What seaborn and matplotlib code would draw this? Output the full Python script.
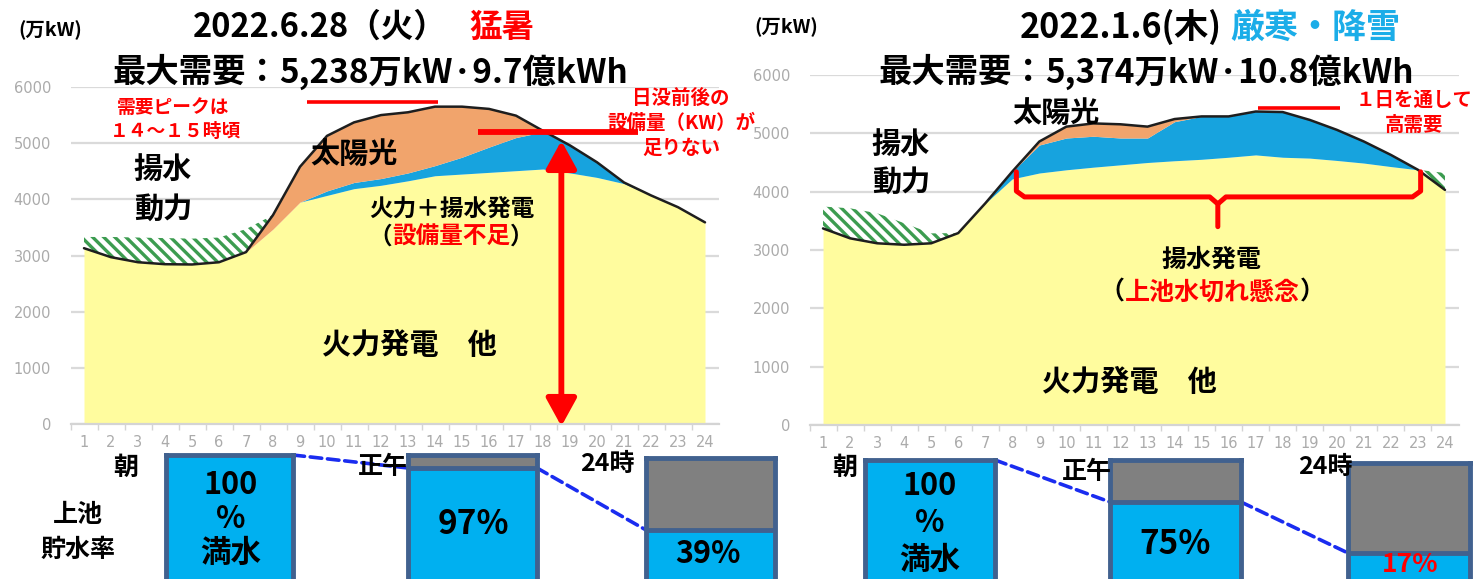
import numpy as np
import pandas as pd
import matplotlib
matplotlib.use("Agg")
import matplotlib.pyplot as plt
import seaborn as sns
from matplotlib.patches import ConnectionPatch

# ---------------- data (万kW) ----------------
hours = list(range(1, 25))
hour_labels = [str(h) for h in hours]
y_ticks = [0, 1000, 2000, 3000, 4000, 5000, 6000]

# 2022.6.28 (summer heat)
summer_thermal = [3130, 2970, 2880, 2845, 2840, 2880, 3060, 3470, 3950, 4070, 4190, 4250,
                  4330, 4420, 4450, 4480, 4510, 4540, 4470, 4390, 4280, 4070, 3860, 3590]
summer_pump_gen = [0, 0, 0, 0, 0, 0, 0, 0, 0, 80, 110, 120,
                   140, 180, 300, 450, 590, 660, 490, 270, 20, 0, 0, 0]
summer_solar = [0, 0, 0, 0, 0, 0, 0, 250, 630, 980, 1070, 1130,
                1080, 1050, 900, 680, 390, 20, 0, 0, 0, 0, 0, 0]
summer_pump_load = [200, 360, 440, 465, 460, 440, 410, 0, 0, 0, 0, 0,
                    0, 0, 0, 0, 0, 0, 0, 0, 0, 0, 0, 0]

# 2022.1.6 (cold wave, snow)
winter_thermal = [3370, 3200, 3115, 3090, 3115, 3290, 3800, 4220, 4320, 4375, 4420, 4460,
                  4500, 4530, 4555, 4590, 4630, 4590, 4575, 4535, 4490, 4430, 4375, 4030]
winter_pump_gen = [0, 0, 0, 0, 0, 0, 0, 125, 480, 545, 530, 460,
                   420, 670, 735, 700, 744, 775, 655, 525, 370, 200, 0, 0]
winter_solar = [0, 0, 0, 0, 0, 0, 0, 0, 60, 195, 220, 235,
                195, 45, 0, 0, 0, 0, 0, 0, 0, 0, 0, 0]
winter_pump_load = [375, 515, 515, 370, 170, 0, 0, 0, 0, 0, 0, 0,
                    0, 0, 0, 0, 0, 0, 0, 0, 0, 0, 0, 290]

# upper reservoir storage rate (%)
storage_times = ["朝", "正午", "24時"]
summer_storage = [100, 97, 39]
winter_storage = [100, 75, 17]

# ---------------- style ----------------
W, H = 1474, 579
YELLOW = "#FFFC9E"
BLUE = "#17A3DE"
ORANGE = "#F1A46C"
GREEN = "#3C9C50"
RED = "#FF0000"
TANK_BLUE = "#00B0F0"
TANK_GREY = "#808080"
TANK_EDGE = "#41618F"
DASH_BLUE = "#1A2CF0"
TICK_GREY = "#ABABAB"

sns.set_theme(style="white")
plt.rcParams["font.family"] = ["Noto Sans CJK JP", "DejaVu Sans"]
plt.rcParams["font.weight"] = "bold"
plt.rcParams["hatch.linewidth"] = 2.4
plt.rcParams["hatch.color"] = GREEN

fig = plt.figure(figsize=(W / 100, H / 100), dpi=100)


def px_rect(x0, y0, x1, y1):
    """figure-fraction rect from pixel box (origin top-left)."""
    return [x0 / W, 1 - y1 / H, (x1 - x0) / W, (y1 - y0) / H]


def area_chart(rect, thermal, pump_gen, solar, pump_load):
    ax = fig.add_axes(rect, zorder=1)
    df = pd.DataFrame({"hour": hours, "thermal": thermal, "pump_gen": pump_gen,
                       "solar": solar, "pump_load": pump_load})
    df["top_gen"] = df["thermal"] + df["pump_gen"]
    df["demand"] = df["top_gen"] + df["solar"]
    df["pump_top"] = df["demand"] + df["pump_load"]

    ax.fill_between(df["hour"], 0, df["thermal"], color=YELLOW, lw=0, zorder=2)
    ax.fill_between(df["hour"], df["thermal"], df["top_gen"], color=BLUE, lw=0, zorder=2)
    ax.fill_between(df["hour"], df["top_gen"], df["demand"], color=ORANGE, lw=0, zorder=2)
    ax.fill_between(df["hour"], df["demand"], df["pump_top"], facecolor="white",
                    edgecolor=GREEN, hatch="\\\\\\", lw=0, zorder=2)
    sns.lineplot(data=df, x="hour", y="demand", ax=ax, color="#1E1E1E", lw=1.8, zorder=3)

    ax.set_xlim(0.5, 24.5)
    ax.set_ylim(0, 6000)
    ax.set_xticks(hours)
    ax.set_xticklabels(hour_labels)
    ax.set_xticks([h + 0.5 for h in hours[:-1]] + [0.5], minor=True)
    ax.set_yticks(y_ticks)
    ax.set(xlabel="", ylabel="")
    ax.grid(axis="y", color="#DADADA", lw=1.6)
    ax.grid(axis="x", visible=False)
    ax.set_axisbelow(True)
    for side in ("top", "left", "right"):
        ax.spines[side].set_visible(False)
    ax.spines["bottom"].set_color("#D4D4D4")
    ax.spines["bottom"].set_linewidth(1.6)
    ax.tick_params(axis="y", length=0, pad=14, labelsize=10.5, labelcolor=TICK_GREY)
    ax.tick_params(axis="x", which="major", length=0, pad=8, labelsize=10.5, labelcolor=TICK_GREY)
    ax.tick_params(axis="x", which="minor", length=4, width=1, color="#D4D4D4", bottom=True)
    for lab in ax.get_xticklabels() + ax.get_yticklabels():
        lab.set_fontweight("normal")
        lab.set_fontfamily("DejaVu Sans")
    return ax, df


ax_s, df_s = area_chart(px_rect(70.5, 87, 718.5, 424), summer_thermal, summer_pump_gen,
                        summer_solar, summer_pump_load)
ax_w, df_w = area_chart(px_rect(809.5, 75, 1458.5, 425), winter_thermal, winter_pump_gen,
                        winter_solar, winter_pump_load)

# summer annotations: peak-demand bar, supply ceiling, evening shortfall arrow
ax_s.plot([9.25, 14.1], [5740, 5740], color=RED, lw=2.6, solid_capstyle="butt", zorder=4)
ceiling = df_s["top_gen"].max()
ax_s.plot([15.6, 21.5], [ceiling, ceiling], color=RED, lw=4.2, solid_capstyle="butt", zorder=4)
arrow_h = 18.68
arrow_top = np.interp(arrow_h, df_s["hour"], df_s["demand"])
ax_s.annotate("", xy=(arrow_h, arrow_top), xytext=(arrow_h, -40),
              arrowprops=dict(arrowstyle="<|-|>,head_length=0.4,head_width=0.22",
                              mutation_scale=42, color=RED, lw=4.2,
                              shrinkA=0, shrinkB=0), zorder=5, annotation_clip=False)

# winter annotations: all-day high demand bar and pumped-storage bracket
ax_w.plot([17.1, 20.1], [5437, 5437], color=RED, lw=2.6, solid_capstyle="butt", zorder=4)
br_l, br_r, br_c = 8.15, 23.1, 15.6
br_top, br_mid, br_tip = 4340, 3910, 3400
ax_w.plot([br_l, br_l, br_l + 0.3, br_c - 0.3, br_c, br_c],
          [br_top, br_mid + 100, br_mid, br_mid, br_mid - 120, br_tip],
          color=RED, lw=3.6, solid_joinstyle="round", zorder=4)
ax_w.plot([br_c, br_c + 0.3, br_r - 0.3, br_r, br_r],
          [br_mid - 120, br_mid, br_mid, br_mid + 100, br_top],
          color=RED, lw=3.6, solid_joinstyle="round", zorder=4)


# ---------------- reservoir tanks ----------------
TANK_BOTTOM = 592  # tanks run past the lower edge of the figure


def tank(x0, x1, top, px_per_pct, pct):
    lo = 100 - (TANK_BOTTOM - top) / px_per_pct
    ax = fig.add_axes(px_rect(x0, top, x1, TANK_BOTTOM), zorder=6)
    ax.bar([0], [pct - lo], bottom=[lo], width=1, color=TANK_BLUE, lw=0)
    if pct < 100:
        ax.bar([0], [100 - pct], bottom=[pct], width=1, color=TANK_GREY, lw=0)
        ax.axhline(pct, color=TANK_EDGE, lw=3.5)
    ax.set_xlim(-0.5, 0.5)
    ax.set_ylim(lo, 100)
    ax.set_xticks([])
    ax.set_yticks([])
    for sp in ax.spines.values():
        sp.set_color(TANK_EDGE)
        sp.set_linewidth(3.5)
    return ax


summer_tank_layout = [((166, 293), 455, 1.3), ((408, 537), 455, 13 / 3), ((646, 775), 458, 72 / 61)]
winter_tank_layout = [((865, 995), 460, 1.3), ((1110, 1241), 460, 42 / 25), ((1348, 1470), 463, 90 / 83)]


def tank_row(layout, values):
    axes = [tank(xr[0], xr[1], top, k, v) for (xr, top, k), v in zip(layout, values)]
    for a, b, va, vb in zip(axes[:-1], axes[1:], values[:-1], values[1:]):
        con = ConnectionPatch(xyA=(0.5, va), coordsA=a.transData,
                              xyB=(-0.5, vb), coordsB=b.transData,
                              color=DASH_BLUE, lw=2.6, linestyle=(0, (3.2, 1.6)), zorder=5)
        fig.add_artist(con)
    return axes


tank_row(summer_tank_layout, summer_storage)
tank_row(winter_tank_layout, winter_storage)

# ---------------- text overlay (pixel coordinates) ----------------
ov = fig.add_axes([0, 0, 1, 1], zorder=10)
ov.set_xlim(0, W)
ov.set_ylim(H, 0)
ov.axis("off")
ov.patch.set_alpha(0)
renderer = fig.canvas.get_renderer()


def rich(x, y, parts, size, ha="center", gap=0.0):
    objs, widths = [], []
    for s, c in parts:
        t = ov.text(0, y, s, color=c, fontsize=size, fontweight="bold", ha="left", va="center")
        objs.append(t)
        widths.append(t.get_window_extent(renderer).width)
    total = sum(widths) + gap * (len(parts) - 1)
    start = x - total / 2 if ha == "center" else x
    for t, w in zip(objs, widths):
        t.set_x(start)
        start += w + gap


def txt(x, y, s, size, color="black"):
    ov.text(x, y, s, color=color, fontsize=size, fontweight="bold", ha="center", va="center")


# headers
txt(50, 30, "(万kW)", 14)
txt(786, 27, "(万kW)", 14)
rich(193, 27, [("2022.6.28（火）", "black"), ("猛暑", RED)], 23.5, ha="left", gap=22)
rich(1020, 27, [("2022.1.6(木)", "black"), ("厳寒・降雪", "#1BADE8")], 24.5, ha="left", gap=8)
rich(370, 72, [("最大需要：", "black"), ("5,238万kW·9.7億kWh", "black")], 24)
rich(1146, 72, [("最大需要：", "black"), ("5,374万kW·10.8億kWh", "black")], 24)

# summer chart labels
txt(173, 107, "需要ピークは", 13.5, RED)
txt(176, 131, "１４～１５時頃", 13.5, RED)
txt(163, 169, "揚水", 21)
txt(163, 209, "動力", 21)
txt(354, 154, "太陽光", 21)
txt(452, 209, "火力＋揚水発電", 17)
rich(451, 237, [("（", "black"), ("設備量不足", RED), ("）", "black")], 17)
txt(409, 345, "火力発電　他", 21)
txt(681, 98, "日没前後の", 14, RED)
txt(681, 123, "設備量（KW）が", 14, RED)
txt(681, 148, "足りない", 14, RED)

# winter chart labels
txt(901, 144, "揚水", 21)
txt(901, 182, "動力", 21)
txt(1056, 113, "太陽光", 21)
txt(1414, 100, "１日を通して", 14, RED)
txt(1414, 125, "高需要", 14, RED)
txt(1212, 260, "揚水発電", 18)
rich(1212, 293, [("（", "black"), ("上池水切れ懸念", RED), ("）", "black")], 18)
txt(1129, 382, "火力発電　他", 21)

# tank labels
for (x, y), s in zip([(126, 468), (383, 467), (607, 464)], storage_times):
    txt(x, y, s, 18)
for (x, y), s in zip([(845, 468), (1087, 472), (1325, 467)], storage_times):
    txt(x, y, s, 18)
txt(78, 515, "上池", 18)
txt(78, 550, "貯水率", 18)


def tank_label(v):
    return "100\n%\n満水" if v == 100 else f"{v}%"


# summer tank values
for s, y in zip(tank_label(summer_storage[0]).split("\n"), (485, 519, 553)):
    txt(231, y, s, 22)
txt(473, 524, tank_label(summer_storage[1]), 24)
txt(708, 554, tank_label(summer_storage[2]), 22)
# winter tank values
for s, y in zip(tank_label(winter_storage[0]).split("\n"), (486, 523, 560)):
    txt(930, y, s, 22)
txt(1175, 545, tank_label(winter_storage[1]), 24)
txt(1410, 565, tank_label(winter_storage[2]), 19, RED)

fig.savefig("out.png", dpi=100)
